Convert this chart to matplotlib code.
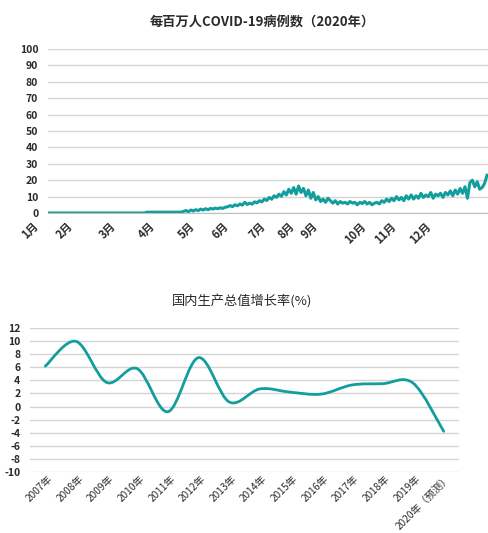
import matplotlib
matplotlib.use('Agg')
import matplotlib.pyplot as plt
import matplotlib.transforms as mtransforms
from matplotlib.path import Path
from matplotlib.patches import PathPatch

plt.rcParams['font.family'] = ['Noto Sans CJK SC', 'DejaVu Sans']
plt.rcParams['axes.unicode_minus'] = False

# Top chart: cases per million, 2020 (~180 samples)
covid_cases = (
    [0.0] * 40
    + [0.5] * 15
    + [1.0, 1.5, 0.8, 1.8, 1.2, 2.0, 1.5, 2.4, 1.8, 2.6, 2.0, 2.8, 2.4, 3.0, 2.6, 3.2, 2.8, 3.5]
    + [3.8, 4.5, 3.9, 5.0, 4.4, 5.5, 4.8, 6.5, 5.2, 6.0, 5.4, 6.8]
    + [6.2, 7.5, 6.8, 8.5, 7.6, 9.5, 8.4, 10.5, 9.5, 11.5, 10.2, 13.0]
    + [11.0, 14.5, 12.0, 15.5, 11.5, 16.5, 12.5, 15.0, 10.5, 14.0]
    + [9.0, 12.5, 8.0, 10.0, 7.0, 8.5, 6.5, 9.0, 7.5, 6.0, 7.5, 5.5, 7.0, 6.0]
    + [6.5, 5.5, 7.0, 6.0, 6.5, 5.0, 6.5, 5.8, 7.0, 5.5, 6.5, 5.0, 6.0]
    + [6.5, 5.5, 7.5, 6.5, 8.5, 7.0, 9.0, 7.5, 10.0, 8.0, 9.5, 7.5, 10.5, 8.5]
    + [11.0, 8.5, 10.5, 9.0, 12.0, 9.5, 11.0, 10.0, 12.5, 9.0, 11.5, 10.5, 12.0, 9.5, 12.5, 11.0]
    + [13.5, 10.5, 14.0, 11.5, 15.0, 12.0, 16.0, 9.0, 18.5, 20.0, 16.0, 19.0, 14.5, 15.5, 18.0, 23.0]
)
month_labels = ['1月', '2月', '3月', '4月', '5月', '6月', '7月', '8月', '9月', '10月', '11月', '12月']
month_index = [0, 14.3, 31.8, 47.8, 64.1, 77.6, 93.1, 104.9, 114.3, 133.9, 146.1, 160.4]
covid_yticks = list(range(0, 101, 10))

# Bottom chart: GDP growth (%)
gdp_years = ['2007年', '2008年', '2009年', '2010年', '2011年', '2012年', '2013年',
             '2014年', '2015年', '2016年', '2017年', '2018年', '2019年', '2020年（预测）']
gdp_growth = [6.2, 10.0, 3.7, 5.8, -0.8, 7.5, 0.7, 2.7, 2.2, 1.9, 3.3, 3.5, 3.6, -3.8]
gdp_yticks = list(range(-10, 13, 2))

teal = '#139e9e'
grid_color = '#d4d4d4'
text_color = '#2b2b2b'

fig = plt.figure(figsize=(4.88, 5.33), dpi=100)

# ---- top chart ----
ax1 = fig.add_axes([48 / 488, 1 - 213 / 533, 440 / 488, 164 / 533])
n = len(covid_cases)
ax1.plot(range(n), covid_cases, color=teal, lw=2.2, solid_joinstyle='round')
ax1.set_xlim(-0.4, n - 1 + 0.4)
ax1.set_ylim(0, 100)
ax1.set_yticks(covid_yticks)
ax1.set_xticks(month_index)
ax1.set_xticklabels(month_labels, rotation=45, ha='right', va='top')
ax1.tick_params(axis='x', length=0, pad=5, labelsize=8, colors=text_color)
ax1.tick_params(axis='y', length=0, pad=7, labelsize=7.5, colors=text_color)
for lab in ax1.get_xticklabels() + ax1.get_yticklabels():
    lab.set_fontweight('bold')
off = mtransforms.ScaledTranslation(-8 / 100, 0, fig.dpi_scale_trans)
for lab in ax1.get_xticklabels():
    lab.set_transform(lab.get_transform() + off)
ax1.grid(axis='y', color=grid_color, lw=1)
ax1.set_axisbelow(True)
for s in ['top', 'right', 'left']:
    ax1.spines[s].set_visible(False)
ax1.spines['bottom'].set_color('#bfbfbf')
fig.text(262 / 488, 1 - 22 / 533, '每百万人COVID-19病例数（2020年）', ha='center', va='center',
         fontsize=9.5, fontweight='bold', color=text_color)

# ---- bottom chart ----
ax2 = fig.add_axes([30 / 488, 1 - 471.7 / 533, 429 / 488, 143.4 / 533])
xs = list(range(len(gdp_growth)))
pts = list(zip(xs, gdp_growth))
verts = [pts[0]]
codes = [Path.MOVETO]
for i in range(len(pts) - 1):
    p0 = pts[i - 1] if i > 0 else pts[i]
    p1 = pts[i]
    p2 = pts[i + 1]
    p3 = pts[i + 2] if i + 2 < len(pts) else pts[i + 1]
    c1 = (p1[0] + (p2[0] - p0[0]) / 6, p1[1] + (p2[1] - p0[1]) / 6)
    c2 = (p2[0] - (p3[0] - p1[0]) / 6, p2[1] - (p3[1] - p1[1]) / 6)
    verts += [c1, c2, p2]
    codes += [Path.CURVE4] * 3
ax2.add_patch(PathPatch(Path(verts, codes), fill=False, edgecolor=teal, lw=2.0,
                        capstyle='round', joinstyle='round'))
ax2.set_xlim(-0.5, len(gdp_growth) - 0.5)
ax2.set_ylim(-10, 12)
ax2.set_yticks(gdp_yticks)
ax2.set_xticks(xs)
ax2.set_xticklabels(gdp_years, rotation=45, ha='right', va='top')
ax2.tick_params(axis='x', length=0, pad=1.0, labelsize=7.3, colors=text_color)
ax2.tick_params(axis='y', length=0, pad=7, labelsize=7.5, colors=text_color)
for lab in ax2.get_yticklabels():
    lab.set_fontweight('bold')
off2 = mtransforms.ScaledTranslation(9 / 100, 0, fig.dpi_scale_trans)
for lab in ax2.get_xticklabels():
    lab.set_transform(lab.get_transform() + off2)
ax2.grid(axis='y', color=grid_color, lw=1)
ax2.set_axisbelow(True)
for s in ['top', 'right', 'left', 'bottom']:
    ax2.spines[s].set_visible(False)
fig.text(242 / 488, 1 - 302 / 533, '国内生产总值增长率(%)', ha='center', va='center',
         fontsize=9.5, color=text_color)

fig.savefig('out.png', dpi=100)
